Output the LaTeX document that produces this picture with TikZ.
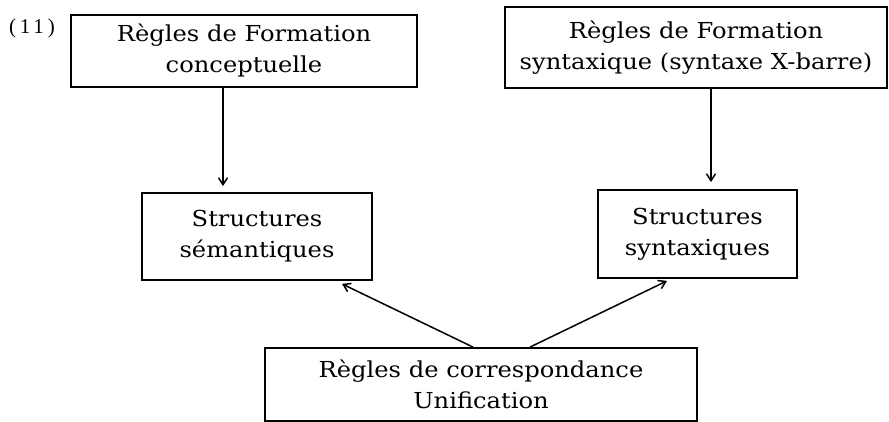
\documentclass[tikz,border=0pt]{standalone}
\usepackage{fontspec}
\setmainfont{DejaVu Serif}[FakeStretch=1.1]
\newfontfamily\numfont{Liberation Serif}[LetterSpace=18]
\usetikzlibrary{arrows.meta}

\begin{document}
\begin{tikzpicture}[x=1pt,y=-1pt,
  box/.style={draw, line width=1.8pt, align=center, inner sep=0pt,
    font=\fontsize{22}{31}\selectfont},
  arr/.style={line width=1.5pt,
    -{Straight Barb[length=7pt,width=9pt,line width=1.5pt]}}]
\useasboundingbox (0,0) rectangle (889,422);

% example number
\node (num) at (32,28) {\numfont\fontsize{21}{22}\selectfont (11)};

% rule boxes and structure boxes
\node[box, minimum width=346pt, minimum height=72pt] (fc) at (244,51)
  {Règles de Formation\\conceptuelle};
\node[box, minimum width=382pt, minimum height=81pt] (fs) at (696,47.5)
  {Règles de Formation\\syntaxique (syntaxe X-barre)};
\node[box, minimum width=230pt, minimum height=87pt] (sem) at (257,236.5)
  {Structures\\sémantiques};
\node[box, minimum width=199pt, minimum height=88pt] (syn) at (697.5,234)
  {Structures\\syntaxiques};
\node[box, minimum width=432pt, minimum height=73pt] (corr) at (481,384.5)
  {Règles de correspondance\\Unification};

% vertical arrows
\coordinate (xl) at (223,0);
\coordinate (xr) at (711,0);
\draw[arr] (fc.south -| xl) -- ([yshift=6pt]sem.north -| xl);
\draw[arr] (fs.south -| xr) -- ([yshift=7pt]syn.north -| xr);

% diagonal arrows from the correspondence rules
\draw[arr] ([xshift=-8pt]corr.north) -- ([xshift=85pt,yshift=-3pt]sem.south);
\draw[arr] ([xshift=49pt]corr.north) -- ([xshift=-30.5pt,yshift=-2pt]syn.south);
\end{tikzpicture}
\end{document}
